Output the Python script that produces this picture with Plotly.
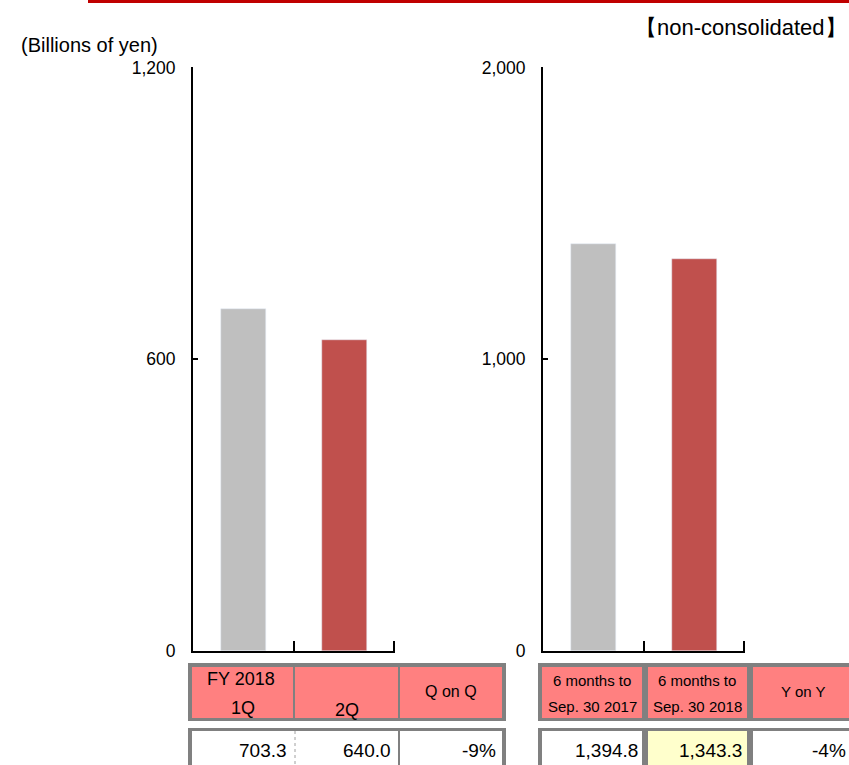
import plotly.graph_objects as go

# ---- data ----
quarter_categories = ["FY2018 1Q", "FY2018 2Q"]
quarter_values = [703.3, 640.0]
quarter_change = "-9%"
halfyear_categories = ["6 months to Sep. 30 2017", "6 months to Sep. 30 2018"]
halfyear_values = [1394.8, 1343.3]
halfyear_change = "-4%"
left_ticks = [0, 600, 1200]
right_ticks = [0, 1000, 2000]
bar_colors = ["#BFBFBF", "#C0504D"]

W, H = 849, 765
FONT = "Liberation Sans, Arial, sans-serif"


def px(x):
    return x / W


def py(y):
    return 1 - y / H


fig = go.Figure()
fig.add_trace(go.Bar(x=[0, 1], y=quarter_values, marker_color=bar_colors,
                     width=0.44, xaxis="x", yaxis="y", showlegend=False,
                     hoverinfo="y"))
fig.add_trace(go.Bar(x=[0, 1], y=halfyear_values, marker_color=bar_colors,
                     width=0.44, xaxis="x2", yaxis="y2", showlegend=False,
                     hoverinfo="y"))

xcommon = dict(range=[-0.5, 1.5], showticklabels=False, ticks="inside",
               tickvals=[-0.5, 0.5, 1.49], ticklen=10, tickwidth=2,
               tickcolor="black", showline=True, linecolor="black",
               linewidth=2, showgrid=False, zeroline=False, fixedrange=True,
               automargin=False)
ycommon = dict(ticks="inside", ticklen=5, tickwidth=2, tickcolor="black",
               showline=True, linecolor="black", linewidth=2, showgrid=False,
               zeroline=False, tickfont=dict(family=FONT, size=17.5, color="black"),
               ticklabelstandoff=12, fixedrange=True, automargin=False)


def inner(ticks):
    # nudge the top tick a hair inside the range so it is drawn
    return ticks[:-1] + [ticks[-1] * 0.999]


fig.update_layout(
    width=W, height=H, margin=dict(l=0, r=0, t=0, b=0, pad=0, autoexpand=False),
    paper_bgcolor="white", plot_bgcolor="white",
    font=dict(family=FONT, color="black"),
    bargap=0,
    xaxis=dict(domain=[px(193), px(395)], anchor="y", **xcommon),
    yaxis=dict(domain=[py(651), py(67)], anchor="x", range=[0, 1200],
               tickvals=inner(left_ticks),
               ticktext=[f"{v:,}" for v in left_ticks], **ycommon),
    xaxis2=dict(domain=[px(543), px(745)], anchor="y2", **xcommon),
    yaxis2=dict(domain=[py(651), py(67)], anchor="x2", range=[0, 2000],
                tickvals=inner(right_ticks),
                ticktext=[f"{v:,}" for v in right_ticks], **ycommon),
)

shapes = []


def rect(x0, y0, x1, y1, color):
    shapes.append(dict(type="rect", xref="paper", yref="paper",
                       x0=px(x0), x1=px(x1), y0=py(y1), y1=py(y0),
                       fillcolor=color, line=dict(width=0), layer="above"))


GREY = "#808080"
PINK = "#FF8080"
YELLOW = "#FFFFCC"

# top red line
rect(88, 0, 849, 3, "#C00000")

# left header
rect(188, 663, 506, 721, GREY)
rect(192, 667, 293, 718, PINK)
rect(295, 667, 398, 718, PINK)
rect(400, 667, 502, 718, PINK)
# left data row
rect(188, 728, 506, 765, GREY)
rect(192, 731, 502, 765, "white")
rect(398, 731, 400, 765, GREY)
shapes.append(dict(type="line", xref="paper", yref="paper",
                   x0=px(295), x1=px(295), y0=py(731), y1=py(765),
                   line=dict(color="#A0A0A0", width=1, dash="dot"),
                   layer="above"))

# right header
rect(538, 663, 849, 721, GREY)
rect(542, 667, 642, 718, PINK)
rect(648, 667, 747, 718, PINK)
rect(753, 667, 849, 718, PINK)
# right data row
rect(538, 728, 849, 765, GREY)
rect(542, 731, 642, 765, "white")
rect(648, 731, 747, 765, YELLOW)
rect(753, 731, 849, 765, "white")

fig.update_layout(shapes=shapes)

ann = []


def text(x, y, s, size=15, xanchor="center"):
    ann.append(dict(x=px(x), y=py(y), xref="paper", yref="paper", text=s,
                    showarrow=False, xanchor=xanchor, yanchor="middle",
                    font=dict(family=FONT, size=size, color="black")))


text(19, 45, "(Billions of yen)", 20, "left")
text(849, 28, "【non-consolidated】", 22, "right")

# left header texts
fy, q1 = quarter_categories[0].split(" ")
q2 = quarter_categories[1].split(" ")[1]
text(241, 679, fy.replace("FY", "FY "), 18)
text(243, 708, q1, 18)
text(347, 710, q2, 18)
text(451, 691, "Q on Q", 16)

# right header texts
for cx, cat in zip([592, 697], halfyear_categories):
    line1, line2 = cat[:11], cat[12:]
    text(cx, 680, line1, 15)
    text(cx, 706, line2, 15)
text(803, 691, "Y on Y", 15)

# data row
for xr, v in zip([289, 393], quarter_values):
    text(xr, 750, f"{v:,.1f}", 19, "right")
text(498, 750, quarter_change, 19, "right")
for xr, v in zip([640, 744], halfyear_values):
    text(xr, 750, f"{v:,.1f}", 19, "right")
text(848, 750, halfyear_change, 19, "right")

fig.update_layout(annotations=ann)

fig.write_html(
    "out.html",
    config={"displayModeBar": False},
    post_script="document.body.style.margin='0';document.body.style.overflow='hidden';",
)
